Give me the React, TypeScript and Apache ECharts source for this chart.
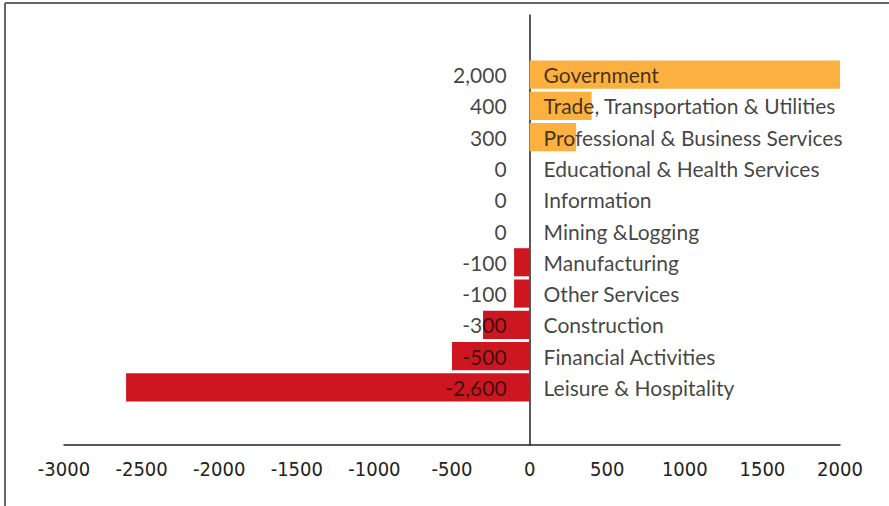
import React, { useEffect, useRef } from "react";
import * as echarts from "echarts";

const categories = [
  "Government",
  "Trade, Transportation & Utilities",
  "Professional & Business Services",
  "Educational & Health Services",
  "Information",
  "Mining &Logging",
  "Manufacturing",
  "Other Services",
  "Construction",
  "Financial Activities",
  "Leisure & Hospitality",
];
const values = [2000, 400, 300, 0, 0, 0, -100, -100, -300, -500, -2600];
const posColor = "#FCB040";
const negColor = "#CD1620";
const axisMin = -3000;
const axisMax = 2000;
const axisStep = 500;

const LABEL_FONT = "Lato, 'Noto Sans', sans-serif";
const TICK_FONT = "'DejaVu Sans Condensed', 'DejaVu Sans', sans-serif";

function fmt(v: number): string {
  const s = Math.abs(v).toLocaleString("en-US");
  return v < 0 ? "-" + s : s;
}

export default function App() {
  const ref = useRef<HTMLDivElement>(null);
  useEffect(() => {
    if (!ref.current) return;
    const chart = echarts.init(ref.current, undefined, { renderer: "svg" });
    const left = 64;
    const right = 889 - 840;
    chart.setOption({
      animation: false,
      backgroundColor: "#ffffff",
      grid: [
        { left, right, top: 15, bottom: 61, containLabel: false },
        { left, right, top: 59, bottom: 103, containLabel: false },
      ],
      xAxis: [
        {
          gridIndex: 0,
          type: "value",
          min: axisMin,
          max: axisMax,
          interval: axisStep,
          axisLine: { show: true, onZero: false, lineStyle: { color: "#222", width: 1.5 } },
          axisTick: { show: false },
          splitLine: { show: false },
          axisLabel: {
            color: "#222",
            fontFamily: TICK_FONT,
            fontSize: 20,
            margin: 14,
            formatter: (v: number) => String(v),
          },
        },
        {
          gridIndex: 1,
          type: "value",
          min: axisMin,
          max: axisMax,
          show: false,
        },
      ],
      yAxis: [
        {
          gridIndex: 0,
          type: "value",
          min: 0,
          max: 1,
          axisLine: { show: true, onZero: true, lineStyle: { color: "#222", width: 1.5 } },
          axisTick: { show: false },
          axisLabel: { show: false },
          splitLine: { show: false },
        },
        {
          gridIndex: 1,
          type: "category",
          data: categories,
          inverse: true,
          show: false,
        },
      ],
      series: [
        {
          type: "bar",
          xAxisIndex: 1,
          yAxisIndex: 1,
          barCategoryGap: "10%",
          data: values.map((v) => ({
            value: v,
            itemStyle: { color: v >= 0 ? posColor : negColor },
          })),
          z: 1,
        },
        {
          type: "scatter",
          xAxisIndex: 1,
          yAxisIndex: 1,
          symbolSize: 0,
          z: 5,
          data: values.map((v, i) => [0, categories[i], v]),
          label: {
            show: true,
            position: "left",
            distance: 23,
            color: "#111",
            fontFamily: LABEL_FONT,
            fontSize: 21,
            formatter: (p: any) => fmt(p.data[2]),
          },
        },
        {
          type: "scatter",
          xAxisIndex: 1,
          yAxisIndex: 1,
          symbolSize: 0,
          z: 5,
          data: values.map((v, i) => [0, categories[i], v]),
          label: {
            show: true,
            position: "right",
            distance: 14,
            color: "#111",
            fontFamily: LABEL_FONT,
            fontSize: 21,
            formatter: (p: any) => categories[p.dataIndex],
          },
        },
      ],
      graphic: [
        {
          type: "line",
          shape: { x1: 5, y1: 3, x2: 889, y2: 3 },
          style: { stroke: "#666", lineWidth: 2 },
        },
        {
          type: "line",
          shape: { x1: 5, y1: 3, x2: 5, y2: 506 },
          style: { stroke: "#666", lineWidth: 2 },
        },
      ],
    });
    return () => chart.dispose();
  }, []);
  return (
    <div
      ref={ref}
      style={{ position: "fixed", left: 0, top: 0, width: 889, height: 506 }}
    />
  );
}
